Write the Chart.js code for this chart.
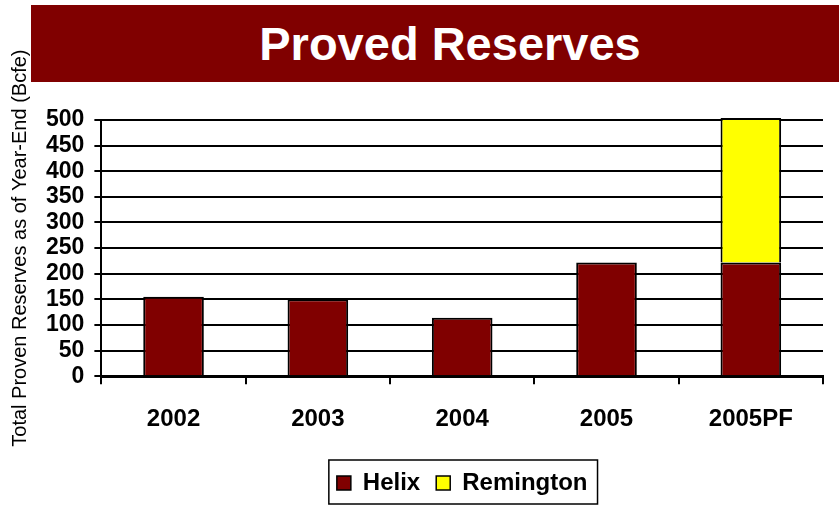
<!DOCTYPE html>
<html>
<head>
<meta charset="utf-8">
<script src="https://cdn.jsdelivr.net/npm/chart.js@4.4.1/dist/chart.umd.min.js"></script>
<style>
  html, body { margin: 0; padding: 0; background: #ffffff; }
  #wrap { position: relative; width: 839px; height: 505px; overflow: hidden; }
  #banner {
    position: absolute; left: 31px; top: 5px; width: 808px; height: 77px;
    background: #800000; color: #ffffff;
    font: bold 47px "Liberation Sans", Arial, sans-serif;
    display: flex; align-items: center; justify-content: center;
    padding-left: 30px; box-sizing: border-box;
  }
  canvas { position: absolute; left: 0; top: 0; }
</style>
</head>
<body>
<div id="wrap">
  <canvas id="reservesChart" width="839" height="505"></canvas>
  <div id="banner">Proved Reserves</div>
</div>
<script>
// Chart data
const years = ['2002', '2003', '2004', '2005', '2005PF'];
const helix = [155, 150, 114, 222, 222];
const remington = [0, 0, 0, 0, 282];
const yTicks = [0, 50, 100, 150, 200, 250, 300, 350, 400, 450, 500];

const chartColors = {
  helix: '#800000',
  remington: '#ffff00',
  line: '#000000'
};

const fontFamily = '"Liberation Sans", Arial, sans-serif';

// Draws the frame around the legend
const legendFrame = {
  id: 'legendFrame',
  afterDraw(chart) {
    const lg = chart.legend;
    if (!lg || !lg.legendHitBoxes || !lg.legendHitBoxes.length) return;
    const boxes = lg.legendHitBoxes;
    const first = boxes[0];
    const last = boxes[boxes.length - 1];
    const ctx = chart.ctx;
    ctx.save();
    ctx.strokeStyle = '#000000';
    ctx.lineWidth = 1.5;
    const left = first.left - 8;
    const right = last.left + last.width + 10;
    ctx.strokeRect(left, 460, right - left, 44);
    ctx.restore();
  }
};

document.addEventListener('DOMContentLoaded', function() {
  const el = document.getElementById('reservesChart');
  new Chart(el, {
    type: 'bar',
    data: {
      labels: years,
      datasets: [{
        label: 'Helix',
        data: helix,
        backgroundColor: chartColors.helix,
        borderColor: chartColors.line,
        borderWidth: 2,
        barPercentage: 0.42,
        categoryPercentage: 1,
        clip: false
      }, {
        label: 'Remington',
        data: remington,
        backgroundColor: chartColors.remington,
        borderColor: chartColors.line,
        borderWidth: 2,
        barPercentage: 0.42,
        categoryPercentage: 1,
        clip: false
      }]
    },
    options: {
      responsive: false,
      animation: false,
      layout: { padding: { top: 120, right: 16, left: 0, bottom: 0 } },
      plugins: {
        tooltip: { enabled: false },
        legend: {
          position: 'bottom',
          fullSize: false,
          labels: {
            color: '#000000',
            font: { family: fontFamily, weight: 'bold', size: 24 },
            boxWidth: 14,
            boxHeight: 14,
            padding: 16,
            generateLabels(chart) {
              return chart.data.datasets.map((ds, i) => ({
                text: ds.label,
                fillStyle: ds.backgroundColor,
                strokeStyle: '#000000',
                lineWidth: 1.5,
                datasetIndex: i,
                fontColor: '#000000'
              }));
            }
          }
        }
      },
      scales: {
        x: {
          stacked: true,
          grid: {
            display: true,
            drawOnChartArea: false,
            drawTicks: true,
            tickLength: 8,
            color: chartColors.line,
            lineWidth: 2
          },
          border: { color: chartColors.line, width: 3 },
          ticks: { color: '#000000', font: { family: fontFamily, weight: 'bold', size: 24 }, padding: 21 }
        },
        y: {
          stacked: true,
          min: 0,
          max: 500,
          afterBuildTicks(axis) {
            axis.ticks = yTicks.map(v => ({ value: v }));
          },
          grid: {
            color: chartColors.line,
            lineWidth: 2,
            tickLength: 7
          },
          border: { color: chartColors.line, width: 2 },
          ticks: { color: '#000000', font: { family: fontFamily, weight: 'bold', size: 23 }, padding: 10, autoSkip: false },
          title: {
            display: true,
            text: 'Total Proven Reserves as of Year-End (Bcfe)',
            color: '#000000',
            font: { family: fontFamily, size: 20 },
            padding: { top: 8, bottom: 4 }
          }
        }
      }
    },
    plugins: [legendFrame]
  });
});
</script>
</body>
</html>
